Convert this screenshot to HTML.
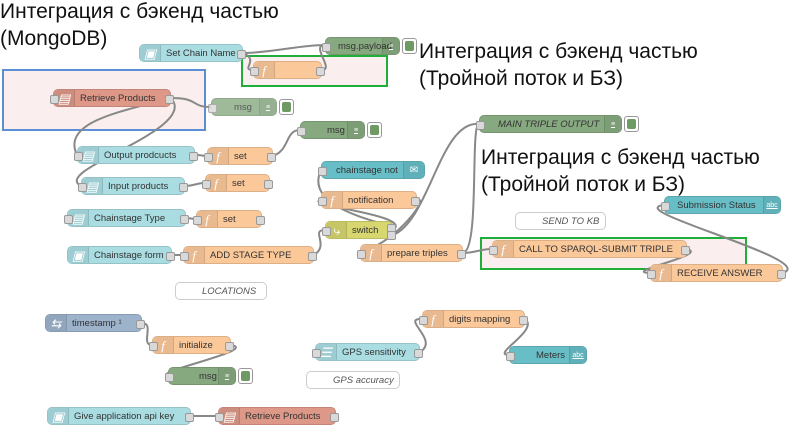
<!DOCTYPE html>
<html><head><meta charset="utf-8">
<style>
body{margin:0;width:800px;height:429px;overflow:hidden;background:#fff;position:relative;font-family:"Liberation Sans",sans-serif}
.n{position:absolute;height:18px;border-radius:5px;border:1px solid rgba(0,0,0,0.12);box-sizing:border-box;font-size:9.5px;color:#333;line-height:17px;overflow:visible;white-space:nowrap}
.n .ic{position:absolute;left:0;top:0;bottom:0;width:20px;border-right:1px solid rgba(0,0,0,0.1);background:rgba(0,0,0,0.07);border-radius:5px 0 0 5px;color:#fff;text-align:center;font-style:italic;font-family:"Liberation Serif",serif;font-size:13px}
.n .lb{position:absolute;left:26px;top:0}
.n.ri .lb{left:12px}
.n .rb{position:absolute;right:0;top:0;bottom:0;width:16px;border-left:1px solid rgba(0,0,0,0.1);background:rgba(0,0,0,0.07);border-radius:0 5px 5px 0;color:#fff;font-size:7px;text-align:center;text-decoration:underline}
.p{position:absolute;width:7px;height:7px;background:#d9d9d9;border:1px solid #999;border-radius:2px;top:5px}
.pl{left:-4px}.pr{right:-4px}
.bt{position:absolute;top:1px;width:13px;height:14px;border:1px solid #999;border-radius:3px;background:#fff}
.bt i{position:absolute;left:2px;top:2px;width:9px;height:10px;background:#6f9a64;border-radius:2px}
.h{position:absolute;font-family:"Liberation Sans","Noto Sans CJK JP",sans-serif;font-size:21px;color:#111;line-height:27px}
.bl{background:#a9dde2}.or{background:#fbc89a}.gr{background:#87a980}.sa{background:#dd9888}.te{background:#68bec7}.ye{background:#d7d66f}.gy{background:#9db3cb}.cm{background:#fff;border-color:#ccc;font-style:italic;color:#555}
</style></head><body>
<div style="position:absolute;left:2px;top:69px;width:200px;height:58px;background:#fbeeee;border:2px solid #5b8ed6"></div>
<div style="position:absolute;left:241px;top:55px;width:143px;height:28px;background:#fbeeee;border:2px solid #1fae3a"></div>
<div style="position:absolute;left:480px;top:237px;width:263px;height:29px;background:#fbeeee;border:2px solid #1fae3a"></div>

<svg width="800" height="429" style="position:absolute;left:0;top:0" fill="none" stroke="#888" stroke-width="2">
<path d="M243,53 C270,53 300,45 325,45"/>
<path d="M243,53 C260,60 240,70 253,70"/>
<path d="M322,70 C335,70 310,45 325,45"/>
<path d="M171,98 C200,98 190,107 211,107"/>
<path d="M171,98 C130,110 60,120 77,155"/>
<path d="M171,98 C200,130 50,170 81,186"/>
<path d="M195,155 C205,155 200,156 207,156"/>
<path d="M185,186 C195,186 195,183 205,183"/>
<path d="M273,156 C290,150 285,130 300,130"/>
<path d="M186,218 C190,218 192,219 196,219"/>
<path d="M172,255 L183,255"/>
<path d="M314,255 C330,245 310,230 325,230"/>
<path d="M393,230 C410,225 300,215 321,170"/>
<path d="M393,230 C415,215 300,205 321,200"/>
<path d="M417,200 C430,195 400,240 360,253"/>
<path d="M393,235 C430,220 440,120 479,124"/>
<path d="M463,253 C480,250 470,124 479,124"/>
<path d="M463,253 C475,253 480,249 492,249"/>
<path d="M687,249 C710,255 620,272 650,273"/>
<path d="M783,273 C820,260 620,210 664,205"/>
<path d="M142,323 C155,323 140,345 152,345"/>
<path d="M231,345 C260,350 150,372 168,376"/>
<path d="M420,352 C440,340 400,318 422,319"/>
<path d="M525,319 C540,330 490,355 509,355"/>
<path d="M191,416 L218,416"/>
</svg>

<div class="h" style="left:0;top:-2px">Интеграция с бэкенд частью<br>(MongoDB)</div>
<div class="h" style="left:419px;top:38px">Интеграция с бэкенд частью<br>(Тройной поток и БЗ)</div>
<div class="h" style="left:481px;top:144px">Интеграция с бэкенд частью<br>(Тройной поток и БЗ)</div>

<div class="n bl" style="left:139px;top:44px;width:104px"><div class="ic">▣</div><span class="lb">Set Chain Name</span><div class="p pr"></div></div>
<div class="n gr ri" style="left:325px;top:37px;width:75px"><span class="lb">msg.payload</span><div class="rb">≡</div><div class="p pl"></div></div><div class="bt" style="left:402px;top:38px"><i></i></div>
<div class="n or" style="left:253px;top:61px;width:69px"><div class="ic">f</div><div class="p pl"></div><div class="p pr"></div></div>
<div class="n sa" style="left:53px;top:89px;width:118px"><div class="ic">▤</div><span class="lb">Retrieve Products</span><div class="p pl"></div><div class="p pr"></div></div>
<div class="n gr ri" style="left:211px;top:98px;width:66px;opacity:.8"><span class="lb" style="left:22px">msg</span><div class="rb">≡</div><div class="p pl"></div></div><div class="bt" style="left:279px;top:99px"><i></i></div>
<div class="n gr ri" style="left:300px;top:121px;width:65px"><span class="lb" style="left:26px">msg</span><div class="rb">≡</div><div class="p pl"></div></div><div class="bt" style="left:367px;top:122px"><i></i></div>
<div class="n bl" style="left:77px;top:146px;width:118px"><div class="ic">▤</div><span class="lb">Output prodcucts</span><div class="p pl"></div><div class="p pr"></div></div>
<div class="n or" style="left:207px;top:147px;width:66px"><div class="ic">f</div><span class="lb">set</span><div class="p pl"></div><div class="p pr"></div></div>
<div class="n bl" style="left:81px;top:177px;width:104px"><div class="ic">▤</div><span class="lb">Input products</span><div class="p pl"></div><div class="p pr"></div></div>
<div class="n or" style="left:205px;top:174px;width:65px"><div class="ic">f</div><span class="lb">set</span><div class="p pl"></div><div class="p pr"></div></div>
<div class="n bl" style="left:67px;top:209px;width:119px"><div class="ic">▤</div><span class="lb">Chainstage Type</span><div class="p pl"></div><div class="p pr"></div></div>
<div class="n or" style="left:196px;top:210px;width:66px"><div class="ic">f</div><span class="lb">set</span><div class="p pl"></div><div class="p pr"></div></div>
<div class="n bl" style="left:67px;top:246px;width:105px"><div class="ic">▣</div><span class="lb">Chainstage form</span><div class="p pr"></div></div>
<div class="n or" style="left:183px;top:246px;width:131px"><div class="ic">f</div><span class="lb">ADD STAGE TYPE</span><div class="p pl"></div><div class="p pr"></div></div>
<div class="n cm" style="left:175px;top:282px;width:92px"><span class="lb">LOCATIONS</span></div>
<div class="n te ri" style="left:321px;top:161px;width:104px"><span class="lb" style="left:14px">chainstage not</span><div class="rb" style="width:20px;text-decoration:none;font-size:10px">✉</div><div class="p pl"></div></div>
<div class="n or" style="left:321px;top:191px;width:96px"><div class="ic">f</div><span class="lb">notification</span><div class="p pl"></div><div class="p pr"></div></div>
<div class="n ye" style="left:325px;top:221px;width:68px"><div class="ic">⤷</div><span class="lb">switch</span><div class="p pl"></div><div class="p pr" style="top:2px"></div><div class="p pr" style="top:9px"></div></div>
<div class="n or" style="left:360px;top:244px;width:103px"><div class="ic">f</div><span class="lb">prepare triples</span><div class="p pl"></div><div class="p pr"></div></div>
<div class="n gr ri" style="left:479px;top:115px;width:143px;font-style:italic"><span class="lb" style="left:18px">MAIN TRIPLE OUTPUT</span><div class="rb">≡</div><div class="p pl"></div></div><div class="bt" style="left:624px;top:116px"><i></i></div>
<div class="n cm" style="left:515px;top:212px;width:91px"><span class="lb">SEND TO KB</span></div>
<div class="n or" style="left:492px;top:240px;width:195px"><div class="ic">f</div><span class="lb">CALL TO SPARQL-SUBMIT TRIPLE</span><div class="p pl"></div><div class="p pr"></div></div>
<div class="n te ri" style="left:664px;top:196px;width:117px"><span class="lb">Submission Status</span><div class="rb">abc</div><div class="p pl"></div></div>
<div class="n or" style="left:650px;top:264px;width:133px"><div class="ic">f</div><span class="lb">RECEIVE ANSWER</span><div class="p pl"></div><div class="p pr"></div></div>
<div class="n gy" style="left:45px;top:314px;width:97px"><div class="ic">⇆</div><span class="lb">timestamp ¹</span><div class="p pr"></div></div>
<div class="n or" style="left:152px;top:336px;width:79px"><div class="ic">f</div><span class="lb">initialize</span><div class="p pl"></div><div class="p pr"></div></div>
<div class="n gr ri" style="left:168px;top:367px;width:68px"><span class="lb" style="left:30px">msg</span><div class="rb">≡</div><div class="p pl"></div></div><div class="bt" style="left:238px;top:368px"><i></i></div>
<div class="n or" style="left:422px;top:310px;width:103px"><div class="ic">f</div><span class="lb">digits mapping</span><div class="p pl"></div><div class="p pr"></div></div>
<div class="n bl" style="left:315px;top:343px;width:105px"><div class="ic">☰</div><span class="lb">GPS sensitivity</span><div class="p pl"></div><div class="p pr"></div></div>
<div class="n te ri" style="left:509px;top:346px;width:78px"><span class="lb" style="left:26px">Meters</span><div class="rb">abc</div><div class="p pl"></div></div>
<div class="n cm" style="left:306px;top:371px;width:94px"><span class="lb">GPS accuracy</span></div>
<div class="n bl" style="left:47px;top:407px;width:144px"><div class="ic">▣</div><span class="lb">Give application api key</span><div class="p pr"></div></div>
<div class="n sa" style="left:218px;top:407px;width:118px"><div class="ic">▤</div><span class="lb">Retrieve Products</span><div class="p pl"></div><div class="p pr"></div></div>
</body></html>
